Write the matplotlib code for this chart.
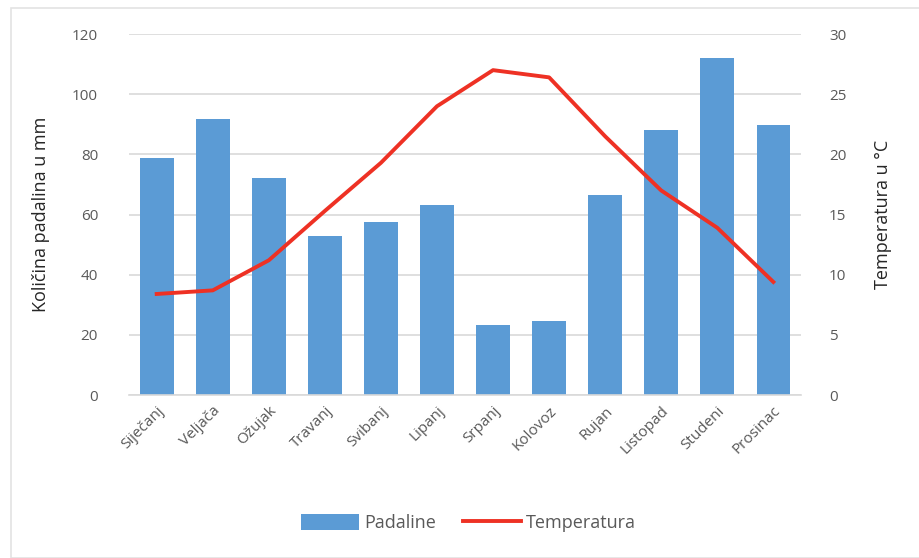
import numpy as np
import matplotlib.pyplot as plt
from matplotlib.patches import Rectangle

# -------------------------------------------------
# Data
# -------------------------------------------------
months = ['Siječanj', 'Veljača', 'Ožujak', 'Travanj', 'Svibanj', 'Lipanj',
          'Srpanj', 'Kolovoz', 'Rujan', 'Listopad', 'Studeni', 'Prosinac']
padaline = [78.8, 91.8, 72.1, 52.9, 57.5, 63.2, 23.3, 24.6, 66.5, 88.1, 112.0, 89.8]
temperatura = [8.4, 8.7, 11.2, 15.3, 19.3, 24.0, 27.0, 26.4, 21.5, 17.0, 13.9, 9.4]

BAR_COLOR = '#5b9bd5'
LINE_COLOR = '#ee3124'
TEXT_COLOR = '#595959'
GRID_COLOR = '#d9d9d9'

plt.rcParams['font.family'] = ['Open Sans', 'DejaVu Sans']

fig = plt.figure(figsize=(9.19, 5.58), dpi=100)
ax = fig.add_axes([0.140, 0.292, 0.732, 0.647])

# outer chart frame
fig.patches.append(Rectangle((0.012, 0.0), 0.99, 0.985, transform=fig.transFigure,
                             fill=False, edgecolor='#e3e3e3', linewidth=1.2))

x = np.arange(len(months))
bars = ax.bar(x, padaline, width=0.6, color=BAR_COLOR, label='Padaline', zorder=2)

ax.set_xlim(-0.5, len(months) - 0.5)
ax.set_ylim(0, 120)
ax.set_yticks(range(0, 121, 20))
ax.yaxis.grid(True, color=GRID_COLOR, linewidth=1.2, zorder=0)
ax.set_axisbelow(True)
for s in ['top', 'right', 'left']:
    ax.spines[s].set_visible(False)
ax.spines['bottom'].set_color(GRID_COLOR)
ax.spines['bottom'].set_linewidth(1.2)
ax.tick_params(axis='both', length=0, colors=TEXT_COLOR, labelsize=11)
ax.tick_params(axis='y', pad=22)
ax.tick_params(axis='x', pad=6)
ax.set_xticks(x)
ax.set_xticklabels(months, rotation=45, ha='right', rotation_mode='anchor')
ax.set_ylabel('Količina padalina u mm', fontsize=13, color='#262626', labelpad=16)

# secondary axis: temperature
ax2 = ax.twinx()
line, = ax2.plot(x, temperatura, color=LINE_COLOR, linewidth=2.8,
                 label='Temperatura', solid_joinstyle='round', zorder=3)
ax2.set_ylim(0, 30)
ax2.set_yticks(range(0, 31, 5))
for s in ['top', 'right', 'left', 'bottom']:
    ax2.spines[s].set_visible(False)
ax2.tick_params(axis='y', length=0, colors=TEXT_COLOR, labelsize=11, pad=20)
ax2.set_ylabel('Temperatura u °C', fontsize=13, color='#262626', labelpad=20)

fig.legend(handles=[bars, line], labels=['Padaline', 'Temperatura'],
           loc='center', bbox_to_anchor=(0.51, 0.063), ncol=2, frameon=False,
           fontsize=13, labelcolor=TEXT_COLOR, handlelength=3.2,
           handleheight=1.0, columnspacing=1.5, handletextpad=0.3)

fig.savefig('out.png', dpi=100)
